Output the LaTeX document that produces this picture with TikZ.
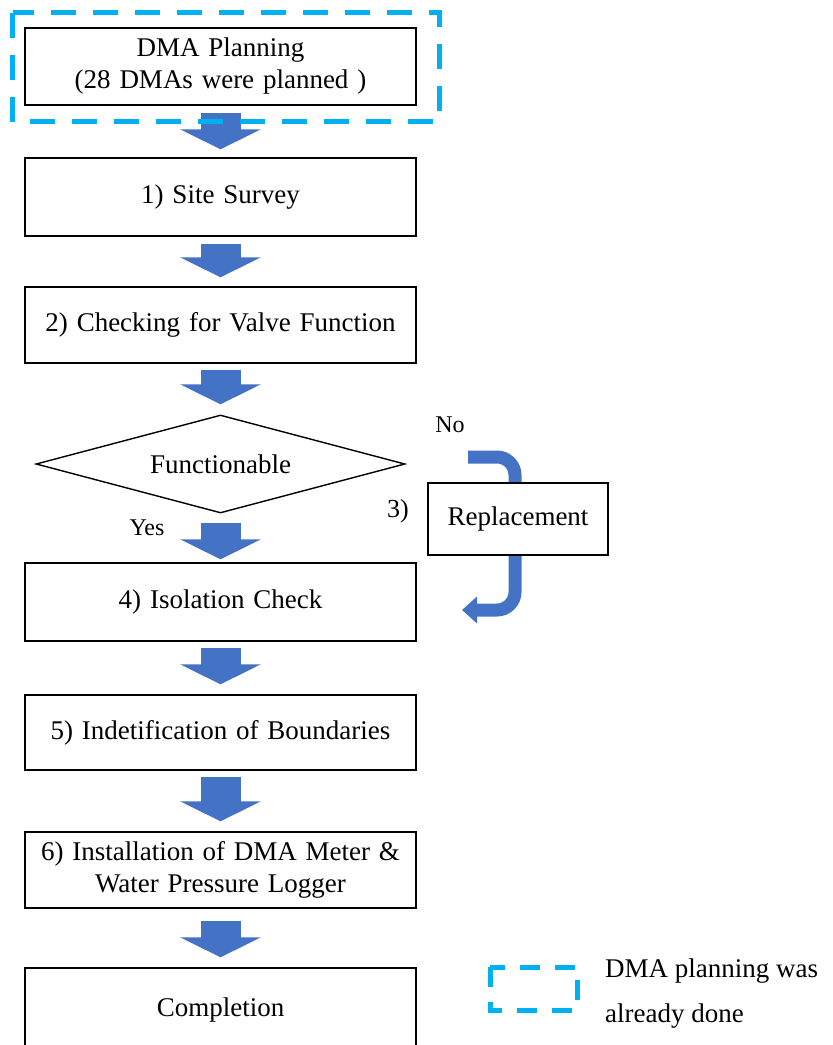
\documentclass[tikz,border=0pt]{standalone}
\usepackage{fontspec}
\setmainfont{Liberation Serif}[WordSpace=1.3]
\newfontfamily\plainserif{Liberation Serif}
\usetikzlibrary{arrows.meta,shapes.geometric}
\definecolor{arrowblue}{RGB}{68,114,196}
\definecolor{dashcyan}{RGB}{0,176,240}
\begin{document}
\begin{tikzpicture}[x=1pt,y=-1pt,
  box/.style={draw=black,line width=1.4pt,fill=white,minimum width=391pt,inner sep=0pt,align=center,font=\fontsize{27}{32}\selectfont},
  decision/.style={diamond,draw=black,line width=1.4pt,minimum width=369pt,minimum height=98pt,aspect=3.77,inner sep=0pt,font=\fontsize{27}{32}\selectfont},
  blockarrow/.style={draw=arrowblue,line width=40pt,-{Triangle[length=20pt,width=80pt]}},
  bentarrow/.style={draw=arrowblue,line width=13pt,rounded corners=18pt,-{Triangle[length=15pt,width=26pt]}},
  label/.style={inner sep=0pt,font=\fontsize{24}{28}\selectfont},
  legendtext/.style={inner sep=0pt,anchor=base west,font=\plainserif\fontsize{27}{32}\selectfont},
  frame/.style={draw=dashcyan,line width=5pt,dash pattern=on 25pt off 17pt},
  legendframe/.style={draw=dashcyan,line width=5pt,dash pattern=on 20pt off 15pt}]
\useasboundingbox (0,0) rectangle (833,1045);
\fill[white] (0,0) rectangle (833,1045);

\node[box,minimum height=77pt] (b1) at (220.5,66.5) {DMA Planning\\(28 DMAs were planned )};
\node[box,minimum height=78pt] (b2) at (220.5,197) {1) Site Survey};
\node[box,minimum height=76pt] (b3) at (220.5,325) {2) Checking for Valve Function};
\node[decision] (d) at (220.5,464) {Functionable};
\node[box,minimum height=78pt] (b4) at (220.5,602) {4) Isolation Check};
\node[box,minimum height=75pt] (b5) at (220.5,732.5) {5) Indetification of Boundaries};
\node[box,minimum height=76pt] (b6) at (220.5,870) {6) Installation of DMA Meter \&\\Water Pressure Logger};
\node[box,minimum height=84pt] (b7) at (220.5,1010) {Completion};

\draw[blockarrow] ([yshift=-7pt]b1.south) -- ([yshift=8pt]b2.north);
\draw[blockarrow] ([yshift=-7pt]b2.south) -- ([yshift=9pt]b3.north);
\draw[blockarrow] ([yshift=-6pt]b3.south) -- ([yshift=10pt]d.north);
\draw[blockarrow] ([yshift=-9pt]d.south) -- ([yshift=3pt]b4.north);
\draw[blockarrow] ([yshift=-6pt]b4.south) -- ([yshift=10pt]b5.north);
\draw[blockarrow] ([yshift=-6pt]b5.south) -- ([yshift=10pt]b6.north);
\draw[blockarrow] ([yshift=-12pt]b6.south) -- ([yshift=10pt]b7.north);

\coordinate (nostart) at (468,457);
\coordinate (noend) at (462,610);
\draw[bentarrow] (nostart) -- (515,457) -- (515,610) -- (noend);
\node[box,minimum width=180pt,minimum height=72pt] (r) at (518,519) {Replacement};

\node[label,anchor=base] (no) at (450,432) {No};
\node[label,anchor=base,font=\fontsize{26}{30}\selectfont] (three) at (398,517) {3)};
\node[label,anchor=base] (yes) at (147,535) {Yes};

\draw[frame] (12.5,12.5) rectangle (439,121.5);

\draw[legendframe] (490,967) rectangle (577,1010);
\node[legendtext] (l1) at (605,977) {DMA planning was};
\node[legendtext] (l2) at (605,1022) {already done};
\end{tikzpicture}
\end{document}
